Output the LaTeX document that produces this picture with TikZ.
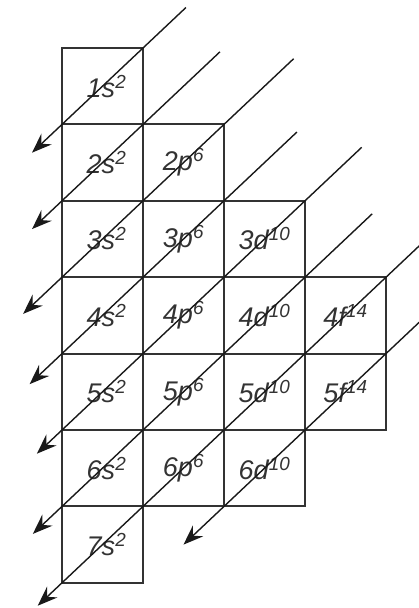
\documentclass[tikz,border=0pt]{standalone}
\usepackage{fontspec}
\setmainfont{Liberation Sans}
\usetikzlibrary{calc,arrows.meta}
\begin{document}
\begin{tikzpicture}[x=1pt,y=-1pt,
  cell/.style={draw=black!80,line width=2pt,minimum width=81pt,minimum height=76.4pt,
    inner sep=0pt,outer sep=0pt,text=black!80,font=\itshape\fontsize{27}{27}\selectfont},
  diag/.style={draw=black!90,line width=1.4pt,arrows={-Stealth[length=20pt,width=15pt,inset=7pt]}}]
\useasboundingbox (0,0) rectangle (419,608);
\clip (0,0) rectangle (419,608);
% cells
\node[cell] (s1) at (102.5,86.2)  {\hspace{8pt}1s\textsuperscript{2}};
\node[cell] (s2) at (102.5,162.6) {\hspace{8pt}2s\textsuperscript{2}};
\node[cell] (p2) at (183.5,162.6) {2p\textsuperscript{6}};
\node[cell] (s3) at (102.5,239)   {\hspace{8pt}3s\textsuperscript{2}};
\node[cell] (p3) at (183.5,239)   {3p\textsuperscript{6}};
\node[cell] (d3) at (264.5,239)   {3d\textsuperscript{10}};
\node[cell] (s4) at (102.5,315.4) {\hspace{8pt}4s\textsuperscript{2}};
\node[cell] (p4) at (183.5,315.4) {4p\textsuperscript{6}};
\node[cell] (d4) at (264.5,315.4) {4d\textsuperscript{10}};
\node[cell] (f4) at (345.5,315.4) {4f\textsuperscript{14}};
\node[cell] (s5) at (102.5,391.8) {\hspace{8pt}5s\textsuperscript{2}};
\node[cell] (p5) at (183.5,391.8) {5p\textsuperscript{6}};
\node[cell] (d5) at (264.5,391.8) {5d\textsuperscript{10}};
\node[cell] (f5) at (345.5,391.8) {5f\textsuperscript{14}};
\node[cell] (s6) at (102.5,468.2) {\hspace{8pt}6s\textsuperscript{2}};
\node[cell] (p6) at (183.5,468.2) {6p\textsuperscript{6}};
\node[cell] (d6) at (264.5,468.2) {6d\textsuperscript{10}};
\node[cell] (s7) at (102.5,544.6) {\hspace{8pt}7s\textsuperscript{2}};
% free ends of the diagonals
\coordinate (t1) at ($(s1.north east)!-0.53!(s1.south west)$);
\coordinate (b1) at ($(s1.south west)!-0.37!(s1.north east)$);
\coordinate (t2) at ($(s2.north east)!-0.95!(s2.south west)$);
\coordinate (b2) at ($(s2.south west)!-0.37!(s2.north east)$);
\coordinate (t3) at ($(p2.north east)!-0.86!(p2.south west)$);
\coordinate (b3) at ($(s3.south west)!-0.48!(s3.north east)$);
\coordinate (t4) at ($(p3.north east)!-0.90!(p3.south west)$);
\coordinate (b4) at ($(s4.south west)!-0.40!(s4.north east)$);
\coordinate (t5) at ($(d3.north east)!-0.70!(d3.south west)$);
\coordinate (b5) at ($(s5.south west)!-0.31!(s5.north east)$);
\coordinate (t6) at ($(d4.north east)!-0.83!(d4.south west)$);
\coordinate (b6) at ($(s6.south west)!-0.36!(s6.north east)$);
\coordinate (t7) at ($(f4.north east)!-0.70!(f4.south west)$);
\coordinate (b7) at ($(s7.south west)!-0.30!(s7.north east)$);
\coordinate (t8) at ($(f5.north east)!-0.70!(f5.south west)$);
\coordinate (b8) at ($(d6.south west)!-0.50!(d6.north east)$);
% diagonals
\foreach \k in {1,...,8} { \draw[diag] (t\k) -- (b\k); }
\end{tikzpicture}
\end{document}
